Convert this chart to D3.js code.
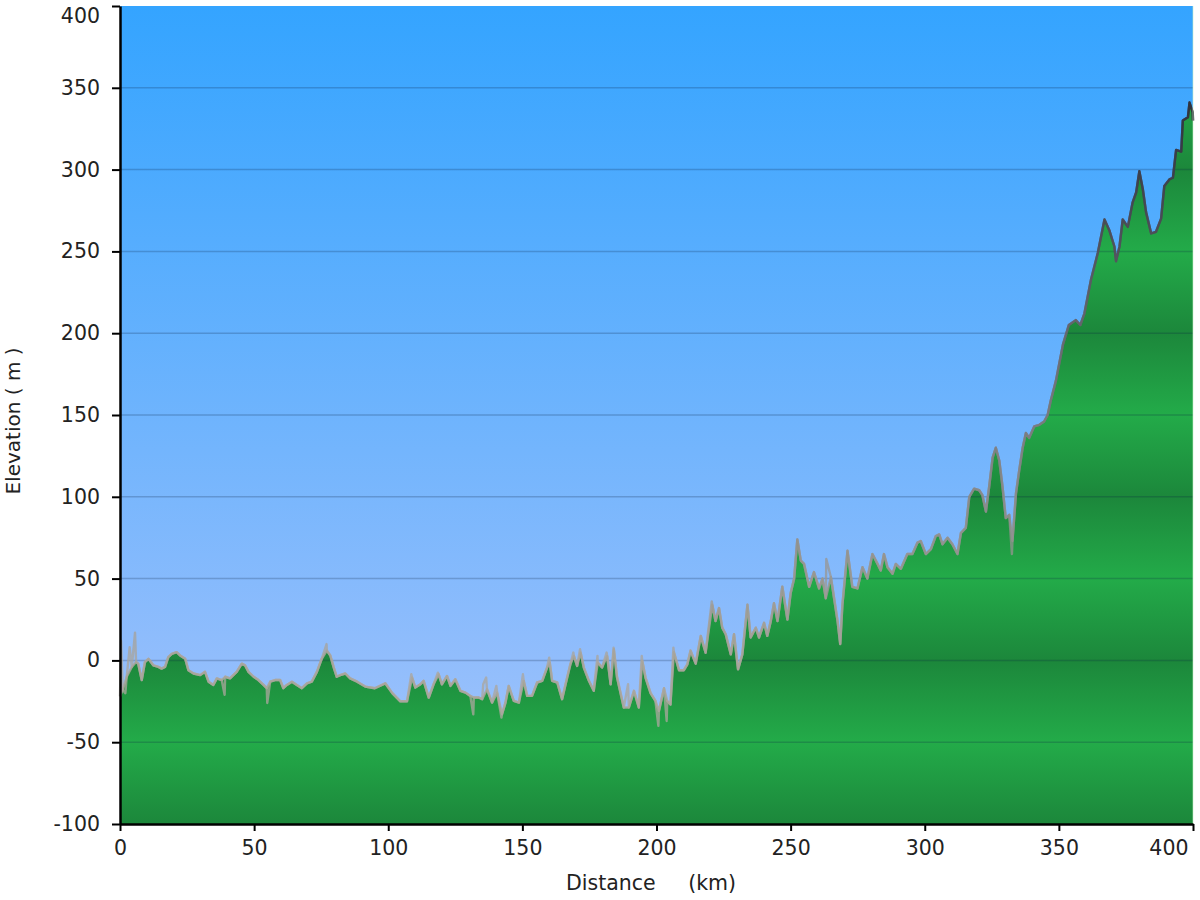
<!DOCTYPE html>
<html><head><meta charset="utf-8">
<script src="https://cdn.jsdelivr.net/npm/d3@7"></script>
<style>
html,body{margin:0;padding:0;background:#fff;}
text{font-family:"DejaVu Sans",Verdana,sans-serif;}
</style></head>
<body>
<svg id="chart" width="1200" height="900"></svg>
<script>
// Distance (km)
const distance = [0,1.0,2.5,4.4,6.0,6.8,8.1,9.3,10.6,12.4,14.3,15.5,16.8,18.0,19.3,21.1,22.4,24.3,25.5,27.4,29.9,31.7,33.0,34.8,36.1,37.9,39.2,41.0,43.5,45.4,46.6,47.9,49.8,51.6,53.5,54.7,56.0,57.8,59.7,60.9,62.2,64.1,65.9,67.8,69.7,71.5,73.4,75.2,77.1,78.4,79.6,80.8,82.1,84.0,85.8,88.4,91.4,95.0,98.9,101.5,104.5,107,108.9,110.1,112,113.2,115.1,116.9,118.8,120,121.9,123.2,125,126.9,128.8,130.6,131.9,133.7,135,136.8,138.7,140.6,142.4,143.7,144.9,146.8,148.7,150.5,151.8,153.6,155.5,157.4,159.2,160.2,161.1,163,164.8,166.7,167.9,169.2,170.4,171.7,172.9,174.8,176.6,178.1,179.7,181.6,182.9,184.1,185.3,187.8,189.7,191.6,193.4,194.7,195.9,197.8,199.6,200.9,202.8,204,205.2,206.5,208.4,210.2,211.5,212.7,214.6,216.5,218.3,220.8,222,223.3,224.5,225.8,227.7,228.9,230.4,232,233.9,235.1,237,238.2,240.1,241.3,242.6,243.8,245.1,246.9,248.8,250,251.3,252.5,253.8,255,256.9,258.7,260.6,261.9,263.1,265,266.2,267.5,268.5,269.3,271.2,273,274.9,276.8,278.6,280.5,282.4,283.6,284.8,286.1,288,289.2,291.1,293.5,295.4,297.3,298.5,300.4,302.3,304.1,305.4,306.6,308.5,310.3,312.2,313.5,315.3,316.6,318.4,320.3,321.5,322.8,324,325.3,326.5,327.8,329,330.2,331.5,332.7,334,335.2,336.5,337.7,338.9,340.8,342.7,344.5,345.8,347,348.9,351.5,353.7,356.3,358,359.5,362,364.5,367,368.8,370.7,371.3,372.6,373.8,375.7,377.5,378.8,380,381.3,382.5,384.4,386.2,388.1,389.3,391.2,392.5,393.7,395.6,396.2,398.1,398.7,399.9,400];
// Elevation (m), smoothed profile (filled)
const elevation = [-22,-18,-10,-4,-1,-2,-12,-1,1,-3,-4,-5,-4,2,4,5,3,1,-6,-8,-9,-7,-13,-15,-11,-12,-10,-11,-7,-2,-3,-7,-10,-12,-15,-17,-13,-12,-12,-17,-15,-13,-15,-17,-14,-13,-7,1,6,3,-4,-10,-9,-8,-11,-13,-16,-17,-14,-20,-25,-25,-10.5,-16.6,-14.6,-12.5,-22.7,-14.6,-8.5,-14.6,-9.5,-15.6,-11.5,-18.6,-19.7,-21.7,-22.7,-22.7,-23.7,-17.6,-25.8,-19.7,-32.9,-25.8,-15.6,-24.8,-25.8,-12.5,-21.7,-21.7,-13.5,-12.5,-4.4,-1.3,-12.5,-13.5,-23.7,-10.5,-2.3,2.7,-3.4,4.8,-4.4,-12.5,-18.6,-1.3,-4.4,2.7,-14.6,6.8,-10.5,-28.8,-28.8,-18.6,-28.8,-0.3,-10.5,-20,-24.8,-30.9,-17,-24.8,-27,5,-6,-6,-2.4,6,-2,15,4.7,34,24,32,20,16,3.7,16,-5.5,3.7,34,14,20,14,23,15,24,35,24,45,25,41,50,74,61,59,45,54,44,50,38,51,38,24,10,34,67,45,44,57,50,65,59,55,65,57,53,59,56,65,65,72,73,65,68,76,77,71,75,71,65,78,81,100,105,104,101,91,106,124,130,122,106,87,89,73,102,116,130,139,136,143,144,146,150,159,171,193,205,208,205,212,233,249,269.5,263,253,244,253,269.5,265,280,286,299,288,274,261,262,270,290,294,295,312,311,330,332,341,335,330];
// Raw GPS spikes (km, m) seen only in the outline
const spikeDistance = [0.4,2.0,3.6,5.6,39.0,54.9,77.0,108.6,118.5,131.7,135.4,136.5,140.3,142.2,150.2,160.0,169.0,171.5,178.0,181.4,184.0,189.4,194.5,200.7,203.8,206.3,220.6,263.3,332.5];
const spikeElevation = [12,-20,8,17,-21,-26,10,-8.5,-7.5,-33,-14.6,-10.5,-15.6,-35,-8.5,1.7,4.8,6.8,2.7,4.8,7.8,-14.6,2.7,-40,-37,7.8,36,62,65];
const xTicks = [0,50,100,150,200,250,300,350,400];
const yTicks = [-100,-50,0,50,100,150,200,250,300,350,400];
const xLabel = "Distance     (km)";
const yLabel = "Elevation ( m )";

const svg = d3.select("#chart");
const x = d3.scaleLinear().domain([0,400]).range([120,1193]);
const y = d3.scaleLinear().domain([-100,400]).range([824,6]);
const data = distance.map((d,i)=>({d, e: elevation[i]}));
const raw = data.concat(spikeDistance.map((d,i)=>({d, e: spikeElevation[i]})))
  .sort((a,b)=>a.d-b.d);

const defs = svg.append("defs");
const sky = defs.append("linearGradient").attr("id","sky")
  .attr("gradientUnits","userSpaceOnUse").attr("x1",0).attr("x2",0)
  .attr("y1",y(400)).attr("y2",y(-100));
sky.append("stop").attr("offset",0).attr("stop-color","#34a4ff");
sky.append("stop").attr("offset",0.8).attr("stop-color","#91bdfc");
sky.append("stop").attr("offset",1).attr("stop-color","#a6c8fb");
const green = defs.append("linearGradient").attr("id","green")
  .attr("gradientUnits","userSpaceOnUse").attr("x1",0).attr("x2",0)
  .attr("y1",y(400)).attr("y2",y(-100));
yTicks.slice().reverse().forEach(v=>{
  const off = (400 - v)/500;
  const dark = (((v % 100) + 100) % 100) === 0;
  green.append("stop").attr("offset",off).attr("stop-color", dark ? "#1c873b" : "#23ab49");
});
const sg = defs.append("linearGradient").attr("id","edge")
  .attr("gradientUnits","userSpaceOnUse").attr("x1",0).attr("x2",0)
  .attr("y1",y(400)).attr("y2",y(-100));
[[400,"#1e1e26"],[300,"#3c3c48"],[200,"#66666e"],[100,"#8a8a8a"],[0,"#aaa59c"],[-100,"#b0aaa2"]].forEach(([v,c])=>{
  sg.append("stop").attr("offset",(400-v)/500).attr("stop-color",c);
});

svg.append("rect").attr("x",x(0)).attr("y",y(400)).attr("width",x(400)-x(0)).attr("height",y(-100)-y(400)).attr("fill","url(#sky)");

const area = d3.area().x(d=>x(d.d)).y0(y(-100)).y1(d=>y(d.e));
svg.append("path").datum(data).attr("d",area).attr("fill","url(#green)");

svg.append("g").selectAll("line").data(yTicks.filter(v=>v>-100 && v<400)).join("line")
  .attr("x1",x(0)).attr("x2",x(400)).attr("y1",d=>y(d)).attr("y2",d=>y(d))
  .attr("stroke","#0a2040").attr("stroke-opacity",0.22).attr("stroke-width",1.5);

const line = d3.line().x(d=>x(d.d)).y(d=>y(d.e));
svg.append("path").datum(raw).attr("d",line).attr("fill","none")
  .attr("stroke","url(#edge)").attr("stroke-width",2.4).attr("stroke-opacity",0.75).attr("stroke-linejoin","round");
svg.append("path").datum(data).attr("d",line).attr("fill","none")
  .attr("stroke","url(#edge)").attr("stroke-width",2.4).attr("stroke-opacity",0.85).attr("stroke-linejoin","round");

svg.append("line").attr("x1",x(400)).attr("x2",x(400)).attr("y1",y(400)).attr("y2",y(-100))
  .attr("stroke","#c8f0c8").attr("stroke-opacity",0.6).attr("stroke-width",1);

const fmt = d => String(d);
const yAxis = svg.append("g").attr("transform",`translate(${x(0)},0)`)
  .call(d3.axisLeft(y).tickValues(yTicks).tickFormat(fmt).tickSize(8).tickSizeOuter(0).tickPadding(12));
const xAxis = svg.append("g").attr("transform",`translate(0,${y(-100)})`)
  .call(d3.axisBottom(x).tickValues(xTicks).tickFormat(fmt).tickSize(7).tickSizeOuter(0).tickPadding(9));
[yAxis,xAxis].forEach(g=>{
  g.select(".domain").attr("stroke","#000").attr("stroke-width",2.5);
  g.selectAll(".tick line").attr("stroke","#000").attr("stroke-width",2);
  g.selectAll(".tick text").attr("font-size",20.5).attr("fill","#222").attr("font-family","DejaVu Sans, Verdana, sans-serif");
});
yAxis.selectAll(".tick").filter(d=>d===400).select("text").attr("dy","0.8em");
xAxis.selectAll(".tick").filter(d=>d===400).select("text").attr("text-anchor","end").attr("x",-5);

svg.append("text").attr("x",651).attr("y",890).attr("text-anchor","middle")
  .attr("font-size",20.5).attr("fill","#222").style("white-space","pre").text(xLabel);
svg.append("text").attr("transform","translate(20,421) rotate(-90)").attr("text-anchor","middle")
  .attr("font-size",20).attr("fill","#222").style("white-space","pre").text(yLabel);
</script>
</body></html>
